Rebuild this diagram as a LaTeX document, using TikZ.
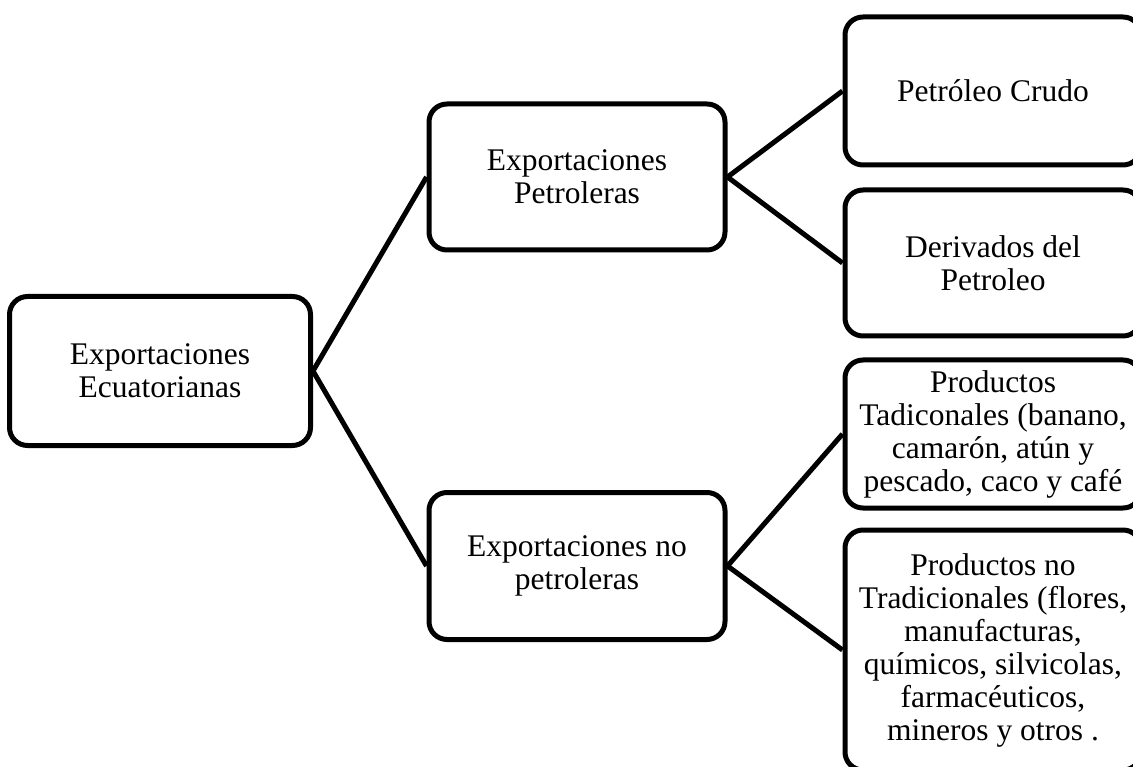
\documentclass[tikz,border=0pt]{standalone}
\usepackage{fontspec}
\setmainfont{Liberation Serif}
\begin{document}
\begin{tikzpicture}[x=1pt,y=-1pt,
  box/.style={draw=black, line width=5pt, rounded corners=18pt, fill=white,
    align=center, inner sep=0pt, font=\fontsize{31.5}{33}\selectfont},
  link/.style={draw=black, line width=5pt}]
\useasboundingbox (0,0) rectangle (1133,767);
\clip (0,0) rectangle (1133,767);
\node[box, minimum width=301pt, minimum height=149pt] (root) at (160,371) {Exportaciones\\Ecuatorianas};
\node[box, minimum width=296pt, minimum height=146pt] (pet) at (577,177) {Exportaciones\\Petroleras};
\node[box, minimum width=296pt, minimum height=147pt] (nopet) at (577,566) {Exportaciones no\\petroleras};
\node[box, minimum width=296pt, minimum height=148pt] (crudo) at (993,91) {Petróleo Crudo};
\node[box, minimum width=296pt, minimum height=146pt] (deriv) at (993,263) {Derivados del\\Petroleo};
\node[box, minimum width=296pt, minimum height=148pt] (trad) at (993,434) {Productos\\Tadiconales (banano,\\camarón, atún y\\pescado, caco y café};
\node[box, minimum width=296pt, minimum height=240pt] (notrad) at (993,650) {Productos no\\Tradicionales (flores,\\manufacturas,\\químicos, silvicolas,\\farmacéuticos,\\mineros y otros .};
\draw[link] (root.east) -- (pet.west);
\draw[link] (root.east) -- (nopet.west);
\draw[link] (pet.east) -- (crudo.west);
\draw[link] (pet.east) -- (deriv.west);
\draw[link] (nopet.east) -- (trad.west);
\draw[link] (nopet.east) -- (notrad.west);
\end{tikzpicture}
\end{document}
